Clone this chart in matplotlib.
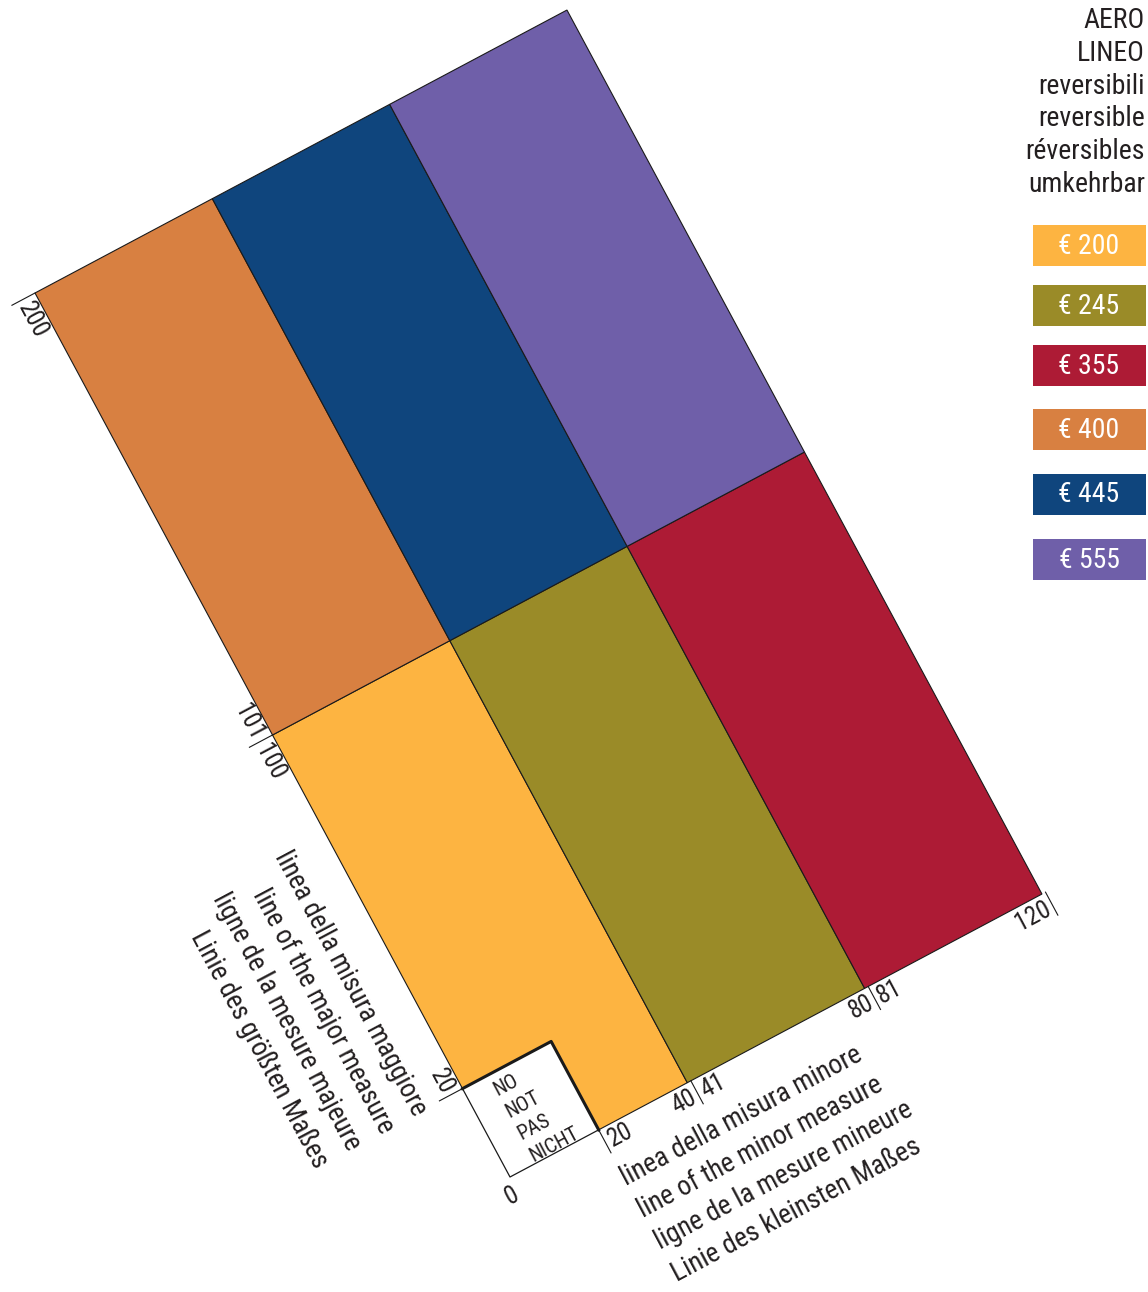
import matplotlib
matplotlib.use('Agg')
import matplotlib.pyplot as plt
from matplotlib.patches import Polygon, Rectangle
from matplotlib.transforms import Affine2D
import numpy as np

plt.rcParams['font.family'] = ['Roboto Condensed', 'Roboto', 'DejaVu Sans']

# price grid (cm): columns = minor measure bands, rows = major measure bands
minor_edges = [0, 40, 80, 120]
major_edges = [0, 100, 200]
prices = [[200, 245, 355],
          [400, 445, 555]]
price_colors = {200: '#FDB441', 245: '#9A8B28', 355: '#AD1B35',
                400: '#D88041', 445: '#0F457D', 555: '#6F5FA9'}
legend_prices = [200, 245, 355, 400, 445, 555]
no_size = 20  # 20x20 corner not available

header_lines = ['AERO', 'LINEO', 'reversibili', 'reversible', 'réversibles', 'umkehrbar']
major_caption = ['linea della misura maggiore', 'line of the major measure',
                 'ligne de la mesure majeure', 'Linie des größten Maßes']
minor_caption = ['linea della misura minore', 'line of the minor measure',
                 'ligne de la mesure mineure', 'Linie des kleinsten Maßes']
no_lines = ['NO', 'NOT', 'PAS', 'NICHT']

W, H = 1148, 1292
fig = plt.figure(figsize=(W / 100, H / 100), dpi=100)
ax = fig.add_axes([0, 0, 1, 1])
ax.set_xlim(0, W)
ax.set_ylim(H, 0)
ax.axis('off')

# cm -> pixel, the whole grid is tilted
ex = (4.433, -2.358)
ey = (-2.375, -4.42)
grid = Affine2D.from_values(ex[0], ex[1], ey[0], ey[1], 510, 1177) + ax.transData
ang = np.degrees(np.arctan2(-ex[1], ex[0]))
edge = '#1a1a1a'
txt = '#231f20'

# cells
for i in range(len(major_edges) - 1):
    y0, y1 = major_edges[i], major_edges[i + 1]
    for j in range(len(minor_edges) - 1):
        x0, x1 = minor_edges[j], minor_edges[j + 1]
        if x0 == 0 and y0 == 0:
            pts = [(0, no_size), (no_size, no_size), (no_size, 0), (x1, 0), (x1, y1), (0, y1)]
        else:
            pts = [(x0, y0), (x1, y0), (x1, y1), (x0, y1)]
        ax.add_patch(Polygon(pts, closed=True, fc=price_colors[prices[i][j]],
                             ec=edge, lw=0.8, transform=grid))

# the excluded corner
ax.plot([0, 0, no_size], [no_size, 0, 0], color=edge, lw=0.9, transform=grid)
ax.plot([0, no_size, no_size], [no_size, no_size, 0], color=edge, lw=2.2, transform=grid)
for k, s in enumerate(no_lines):
    ax.text(5.5, 16.5 - 5.0 * k, s, transform=grid, rotation=ang, rotation_mode='anchor',
            ha='left', va='center', fontsize=15, color=txt)

# ticks on the minor axis
for u in [20, 40.8, 80.8, 120.8]:
    ax.plot([u, u], [0, -5.2], color=edge, lw=0.8, transform=grid)
xlabels = [('20', 20.8, 'left'), ('40', 40, 'right'), ('41', 41.6, 'left'),
           ('80', 80, 'right'), ('81', 81.6, 'left'), ('120', 120, 'right')]
for s, u, ha in xlabels:
    ax.text(u, -0.6, s, transform=grid, rotation=ang, rotation_mode='anchor',
            ha=ha, va='top', fontsize=18, color=txt)
ax.text(-1.5, -1.0, '0', transform=grid, rotation=ang, rotation_mode='anchor',
        ha='center', va='top', fontsize=18, color=txt)

# ticks on the major axis
for v in [20, 100, 200]:
    ax.plot([0, -5.2], [v, v], color=edge, lw=0.8, transform=grid)
ylabels = [('20', 20.8, 'right'), ('100', 99.2, 'left'), ('101', 100.8, 'right'),
           ('200', 199.2, 'left')]
for s, v, ha in ylabels:
    ax.text(-0.6, v, s, transform=grid, rotation=ang - 90, rotation_mode='anchor',
            ha=ha, va='top', fontsize=18, color=txt)

# captions
for k, s in enumerate(major_caption):
    ax.text(-9.8 - 7.45 * k, 19.5, s, transform=grid, rotation=ang - 90,
            rotation_mode='anchor', ha='right', va='center', fontsize=19.5, color=txt)
for k, s in enumerate(minor_caption):
    ax.text(19.5, -12.5 - 7.2 * k, s, transform=grid, rotation=ang,
            rotation_mode='anchor', ha='left', va='baseline', fontsize=19.5, color=txt)

# legend
hy = 28
for s in header_lines:
    ax.text(1145, hy, s, ha='right', va='baseline', fontsize=20, color=txt)
    hy += 32.8
box_tops = [225, 285, 345, 409, 474, 539]
for p, top in zip(legend_prices, box_tops):
    ax.add_patch(Rectangle((1033, top), 113, 41, fc=price_colors[p], ec='none'))
    ax.text(1089, top + 21, f'€ {p}', ha='center', va='center', fontsize=20, color='white')

fig.savefig('out.png', dpi=100)
